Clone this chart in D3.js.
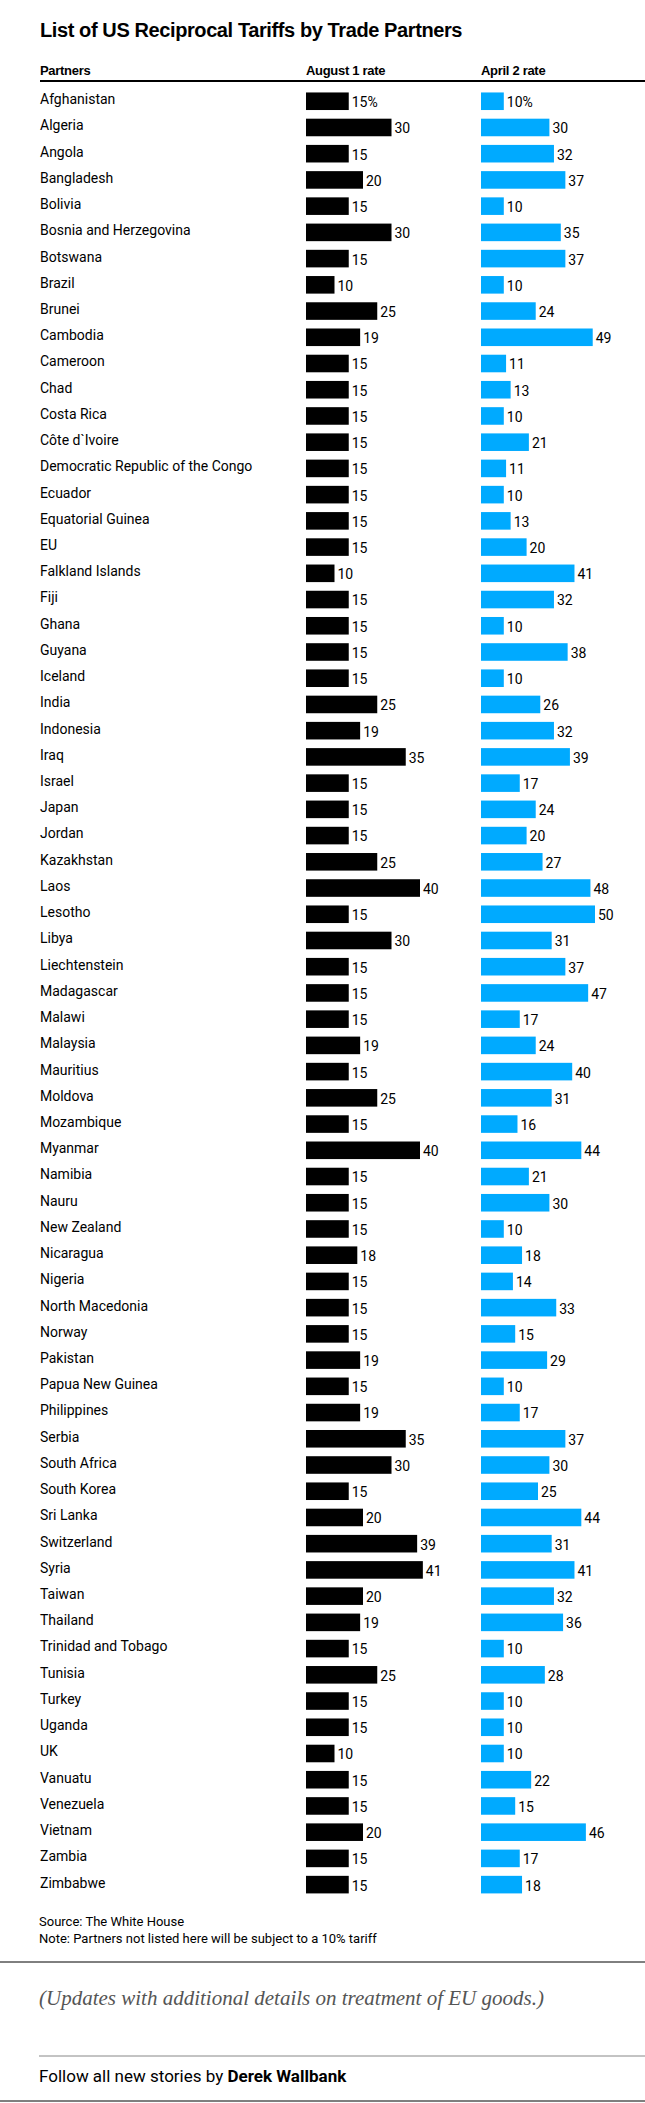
<!DOCTYPE html>
<html><head><meta charset="utf-8">
<script src="https://cdn.jsdelivr.net/npm/d3@7"></script>
<style>body{margin:0;background:#fff}</style></head>
<body><svg id="c" width="645" height="2103"></svg>
<script>
const partners=["Afghanistan","Algeria","Angola","Bangladesh","Bolivia","Bosnia and Herzegovina","Botswana","Brazil","Brunei","Cambodia","Cameroon","Chad","Costa Rica","Côte d`Ivoire","Democratic Republic of the Congo","Ecuador","Equatorial Guinea","EU","Falkland Islands","Fiji","Ghana","Guyana","Iceland","India","Indonesia","Iraq","Israel","Japan","Jordan","Kazakhstan","Laos","Lesotho","Libya","Liechtenstein","Madagascar","Malawi","Malaysia","Mauritius","Moldova","Mozambique","Myanmar","Namibia","Nauru","New Zealand","Nicaragua","Nigeria","North Macedonia","Norway","Pakistan","Papua New Guinea","Philippines","Serbia","South Africa","South Korea","Sri Lanka","Switzerland","Syria","Taiwan","Thailand","Trinidad and Tobago","Tunisia","Turkey","Uganda","UK","Vanuatu","Venezuela","Vietnam","Zambia","Zimbabwe"];
const aug1=[15,30,15,20,15,30,15,10,25,19,15,15,15,15,15,15,15,15,10,15,15,15,15,25,19,35,15,15,15,25,40,15,30,15,15,15,19,15,25,15,40,15,15,15,18,15,15,15,19,15,19,35,30,15,20,39,41,20,19,15,25,15,15,10,15,15,20,15,15];
const apr2=[10,30,32,37,10,35,37,10,24,49,11,13,10,21,11,10,13,20,41,32,10,38,10,26,32,39,17,24,20,27,48,50,31,37,47,17,24,40,31,16,44,21,30,10,18,14,33,15,29,10,17,37,30,25,44,31,41,32,36,10,28,10,10,10,22,15,46,17,18];
const headers=["Partners","August 1 rate","April 2 rate"];

const svg=d3.select("#c");
const F="'Liberation Sans Narrow','Arial Narrow',Roboto,sans-serif";
svg.append("text").attr("x",40).attr("y",37).attr("font-family","'Liberation Sans',Arial,sans-serif").attr("font-weight","bold").attr("font-size",20).attr("letter-spacing","-0.4").text("List of US Reciprocal Tariffs by Trade Partners");
const hx=[40,306,481];
headers.forEach((h,i)=>svg.append("text").attr("x",hx[i]).attr("y",75).attr("font-family","'Liberation Sans',Arial,sans-serif").attr("font-weight","bold").attr("font-size",13).attr("letter-spacing","-0.3").text(h));
svg.append("line").attr("x1",40).attr("x2",645).attr("y1",81).attr("y2",81).attr("stroke","#000").attr("stroke-width",2);

const step=26.23;
const y=d3.scaleBand().domain(partners).range([88,88+step*partners.length]).paddingInner(0.33).paddingOuter(0.17);
const xa=d3.scaleLinear().domain([0,40]).range([0,114]);
const xb=d3.scaleLinear().domain([0,50]).range([0,114]);
const g=svg.append("g").attr("font-family",F).attr("font-size",14);
partners.forEach((p,i)=>{
  const yc=y(p)+y.bandwidth()/2;
  g.append("text").attr("x",40).attr("y",yc-2).attr("dy","0.35em").text(p);
  g.append("rect").attr("x",306).attr("y",y(p)).attr("width",xa(aug1[i])).attr("height",y.bandwidth()).attr("fill","#000");
  g.append("text").attr("x",306+xa(aug1[i])+3).attr("y",yc+1).attr("dy","0.35em").text(aug1[i]+(i===0?"%":""));
  g.append("rect").attr("x",481).attr("y",y(p)).attr("width",xb(apr2[i])).attr("height",y.bandwidth()).attr("fill","#00aaff");
  g.append("text").attr("x",481+xb(apr2[i])+3).attr("y",yc+1).attr("dy","0.35em").text(apr2[i]+(i===0?"%":""));
});
svg.append("text").attr("x",39).attr("y",1926).attr("font-family",F).attr("font-size",13).text("Source: The White House");
svg.append("text").attr("x",39).attr("y",1943).attr("font-family",F).attr("font-size",13).text("Note: Partners not listed here will be subject to a 10% tariff");
svg.append("line").attr("x1",0).attr("x2",645).attr("y1",1962).attr("y2",1962).attr("stroke","#000").attr("stroke-width",1);
svg.append("text").attr("x",39).attr("y",2005).attr("font-family","'Liberation Serif','DejaVu Serif',serif").attr("font-style","italic").attr("font-size",21).attr("fill","#555").text("(Updates with additional details on treatment of EU goods.)");
svg.append("line").attr("x1",39).attr("x2",645).attr("y1",2056).attr("y2",2056).attr("stroke","#888").attr("stroke-width",1);
const t=svg.append("text").attr("x",39).attr("y",2082).attr("font-family",F).attr("font-size",17);
t.append("tspan").text("Follow all new stories by ");
t.append("tspan").attr("font-weight","bold").text("Derek Wallbank");
svg.append("line").attr("x1",0).attr("x2",645).attr("y1",2101).attr("y2",2101).attr("stroke","#000").attr("stroke-width",1);
</script></body></html>
